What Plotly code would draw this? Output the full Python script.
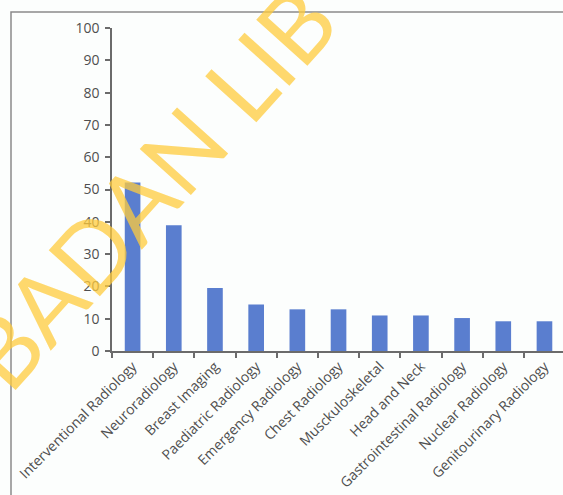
import plotly.graph_objects as go

categories = [
    "Interventional Radiology", "Neuroradiology", "Breast Imaging",
    "Paediatric Radiology", "Emergency Radiology", "Chest Radiology",
    "Musckuloskeletal", "Head and Neck", "Gastrointestinal Radiology",
    "Nuclear Radiology", "Genitourinary Radiology",
]
values = [52.2, 38.9, 19.5, 14.4, 12.9, 12.9, 11.0, 11.0, 10.2, 9.2, 9.2]
y_ticks = [0, 10, 20, 30, 40, 50, 60, 70, 80, 90, 100]
watermark = "BADAN LIB"

W, H = 563, 495
L, R, T, B = 112, 0, 28, 144
pw, ph = W - L - R, H - T - B

def px_to_paper_x(px):
    return (px - L) / pw

def px_to_paper_y(py):
    return (H - B - py) / ph

fig = go.Figure()
fig.add_trace(go.Bar(
    x=categories, y=values,
    marker=dict(color="#5A7ECF", line=dict(width=0)),
))

axis_col = "#6b6b6b"
text_col = "#4f4f4f"
tfont = "Open Sans, Noto Sans, sans-serif"

fig.update_layout(
    width=W, height=H,
    margin=dict(l=L, r=R, t=T, b=B, pad=0),
    paper_bgcolor="#fcfefd", plot_bgcolor="#fcfefd",
    bargap=0.62,
    showlegend=False,
    font=dict(family=tfont, size=14, color=text_col),
    xaxis=dict(
        range=[-0.5, 10.45],
        showline=True, linecolor=axis_col, linewidth=1.5,
        ticks="outside", tickson="boundaries", ticklen=5, tickcolor=axis_col, tickwidth=1.5,
        tickangle=-45, showgrid=False, zeroline=False,
        tickfont=dict(family=tfont, size=14, color=text_col),
    ),
    yaxis=dict(
        range=[0, 100], tickvals=y_ticks, ticktext=[str(v) for v in y_ticks],
        showline=True, linecolor=axis_col, linewidth=1.5,
        ticks="outside", ticklen=5, tickcolor=axis_col, tickwidth=1.5,
        showgrid=False, zeroline=False, ticklabelstandoff=3,
        tickfont=dict(family=tfont, size=14, color=text_col),
    ),
    shapes=[dict(
        type="rect", xref="paper", yref="paper",
        x0=px_to_paper_x(11), x1=px_to_paper_x(W + 20),
        y0=px_to_paper_y(H + 20), y1=px_to_paper_y(12),
        line=dict(color="#8a8a8a", width=1.5), fillcolor="rgba(0,0,0,0)",
        layer="below",
    )],
    annotations=[dict(
        text=watermark, xref="paper", yref="paper",
        x=px_to_paper_x(148), y=px_to_paper_y(186),
        xanchor="center", yanchor="middle", showarrow=False,
        textangle=-48, opacity=0.75,
        font=dict(family="Lato, sans-serif", size=96, color="#FFCC3D"),
    )],
)

fig.write_html("out.html")
